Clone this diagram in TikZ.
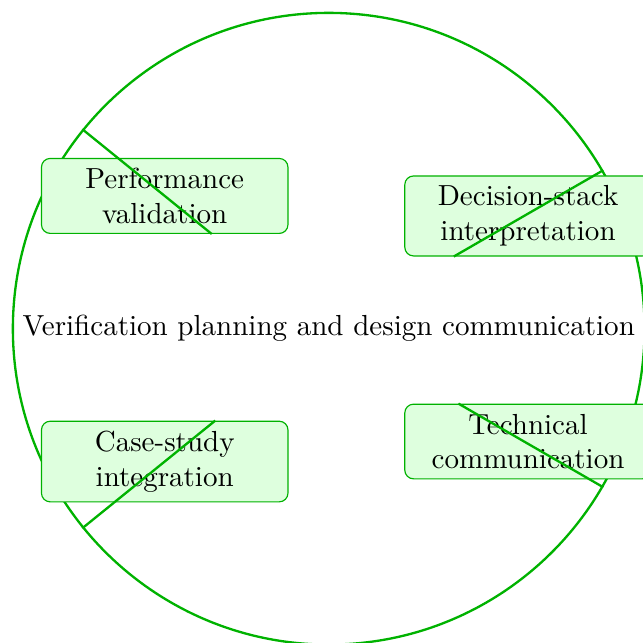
\documentclass[tikz,border=0pt]{standalone}
\usepackage{tikz}
\usetikzlibrary{positioning}
\definecolor{ringgreen}{RGB}{0,178,0}
\tikzset{%
  hub ring/.style={
    circle,
    draw=ringgreen,
    thick
  },
  topic/.style={
    rectangle,
    rounded corners=3pt,
    draw=ringgreen,
    fill=green!13,
    text width=2.75cm,
    align=center
  },
  spoke/.style={
    ringgreen,
    thick
  },
}

\begin{document}
\begin{tikzpicture}
\useasboundingbox (-3.98,-3.805) rectangle (3.805,3.98);
\node[hub ring] (hub) at (0,0) {Verification planning and design communication};

\node[topic] (perf) at (141:2.555)   {Performance validation};
\node[topic] (dec)  at (29.5:2.773)  {Decision-stack interpretation};
\node[topic] (case) at (219:2.555)   {Case-study integration};
\node[topic] (tech) at (-29.5:2.773) {Technical communication};

% radial spokes, cut at the inner side of each box
\draw[spoke] (hub.141) -- (intersection of hub.141--hub.center and perf.south west--perf.south east);
\draw[spoke] (hub.30)  -- (intersection of hub.30--hub.center and dec.south west--dec.south east);
\draw[spoke] (hub.219) -- (intersection of hub.219--hub.center and case.north west--case.north east);
\draw[spoke] (hub.-30) -- (intersection of hub.-30--hub.center and tech.north west--tech.north east);
\end{tikzpicture}
\end{document}
